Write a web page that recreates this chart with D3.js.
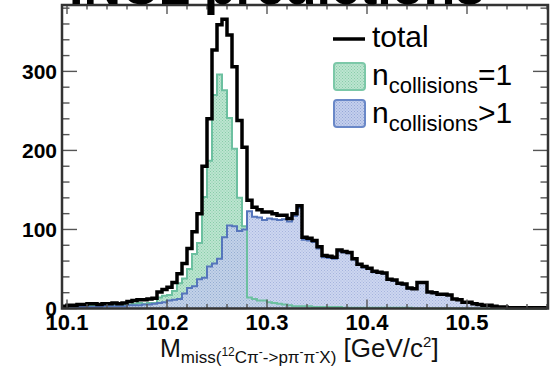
<!DOCTYPE html>
<html><head><meta charset="utf-8">
<script src="https://cdn.jsdelivr.net/npm/d3@7"></script>
<style>html,body{margin:0;padding:0;background:#fff;overflow:hidden}</style>
</head><body>
<svg id="c" width="559" height="368"></svg>
<script>
// ---- data ----
const binStart = 10.095;
const binWidth = 0.005;
const green = [1,2,2,3,3,4,4,3,3,3,4,3,4,5,6,7,6,7,7,14,16,17,22,32,38,50,69,83,141,187,270,296,276,241,202,140,104,14,12,10,10,8,7,6,5,4,3,3,3,3,2,2,2,2,2,2,1,1,1,1,1,1,1,1,1,1,1,1,1,1,0,0,0,0,0,0,0,0,0,0,0,0,0,0,0,0,0,0,0,0,0,0,0,0,0,0,0];
const blue = [2,2,2,2,2,2,2,2,3,3,3,3,3,4,4,4,5,5,6,7,8,10,11,12,19,26,28,37,39,53,57,63,90,105,104,98,100,123,116,115,112,114,113,112,113,110,117,127,87,86,84,76,65,64,63,72,71,70,62,55,52,50,46,45,44,36,35,31,30,25,25,33,33,21,20,18,18,17,12,11,8,8,6,5,4,4,3,2,2,1,1,1,1,1,1,1,1];
const total = [3,4,4,5,5,6,6,5,6,6,7,6,7,9,10,11,11,12,13,21,24,27,33,44,57,76,97,120,180,240,327,359,366,346,306,238,204,137,128,125,122,122,120,118,118,114,120,130,90,89,86,78,67,66,65,74,72,71,63,56,53,51,47,46,45,37,36,32,31,26,25,33,33,21,20,18,18,17,12,11,8,8,6,5,4,4,3,2,2,1,1,1,1,1,1,1,1];
const xTicks = [10.1, 10.2, 10.3, 10.4, 10.5];
const xTickLabels = ["10.1", "10.2", "10.3", "10.4", "10.5"];
const yTicks = [0, 100, 200, 300];
const yTickLabels = ["0", "100", "200", "300"];
const xMinor = [10.12,10.14,10.16,10.18,10.22,10.24,10.26,10.28,10.32,10.34,10.36,10.38,10.42,10.44,10.46,10.48,10.52,10.54,10.56,10.58];
const yMinor = [20,40,60,80,120,140,160,180,220,240,260,280,320,340,360,380];
const legendLabels = ["total", "n", "collisions", "=1", ">1"];
const titleText = "INCL predictions";

// ---- layout ----
const L = 62, R = 548, T = 5, B = 308.5;
const svg = d3.select("#c");
const x = d3.scaleLinear().domain([10.095, 10.581]).range([L, R]);
const y = d3.scaleLinear().domain([0, 384]).range([B, T]);

const defs = svg.append("defs");
function dotPattern(id, bg, dot) {
  const p = defs.append("pattern").attr("id", id).attr("patternUnits", "userSpaceOnUse")
    .attr("width", 3).attr("height", 3);
  p.append("rect").attr("width", 3).attr("height", 3).attr("fill", bg);
  p.append("rect").attr("x", 0).attr("y", 0).attr("width", 1).attr("height", 1).attr("fill", dot);
  p.append("rect").attr("x", 1.5).attr("y", 1.5).attr("width", 1).attr("height", 1).attr("fill", dot);
}
dotPattern("pg", "#bce5d0", "#88cca9");
dotPattern("pb", "#c4cfed", "#95a7d7");

function pts(arr) {
  const p = arr.map((v, i) => [binStart + i * binWidth, v]);
  p.push([binStart + arr.length * binWidth, arr[arr.length - 1]]);
  return p;
}
const clip = defs.append("clipPath").attr("id", "clip");
clip.append("rect").attr("x", L).attr("y", T).attr("width", R - L).attr("height", B - T + 2);

const area = d3.area().x(d => x(d[0])).y0(y(0)).y1(d => y(d[1])).curve(d3.curveStepAfter);
const line = d3.line().x(d => x(d[0])).y(d => y(d[1])).curve(d3.curveStepAfter);

const g = svg.append("g").attr("clip-path", "url(#clip)");
g.append("path").attr("d", area(pts(green))).attr("fill", "url(#pg)");
g.append("path").attr("d", area(pts(blue))).attr("fill", "url(#pb)").attr("opacity", 0.85);
g.append("path").attr("d", line(pts(green))).attr("fill", "none").attr("stroke", "#6cc0a0").attr("stroke-width", 2);
g.append("path").attr("d", line(pts(blue))).attr("fill", "none").attr("stroke", "#5676bc").attr("stroke-width", 2);
g.append("path").attr("d", line(pts(total))).attr("fill", "none").attr("stroke", "#000").attr("stroke-width", 3.5);

// ---- frame and ticks ----
const tk = svg.append("g").attr("stroke", "#555").attr("stroke-width", 1.4);
xTicks.forEach(v => {
  tk.append("line").attr("x1", x(v)).attr("x2", x(v)).attr("y1", B).attr("y2", B - 9);
  tk.append("line").attr("x1", x(v)).attr("x2", x(v)).attr("y1", T).attr("y2", T + 9);
});
xMinor.forEach(v => {
  tk.append("line").attr("x1", x(v)).attr("x2", x(v)).attr("y1", B).attr("y2", B - 4.5);
  tk.append("line").attr("x1", x(v)).attr("x2", x(v)).attr("y1", T).attr("y2", T + 4.5);
});
yTicks.forEach(v => {
  tk.append("line").attr("x1", L).attr("x2", L + 15).attr("y1", y(v)).attr("y2", y(v));
  tk.append("line").attr("x1", R).attr("x2", R - 15).attr("y1", y(v)).attr("y2", y(v));
});
yMinor.forEach(v => {
  tk.append("line").attr("x1", L).attr("x2", L + 7.5).attr("y1", y(v)).attr("y2", y(v));
  tk.append("line").attr("x1", R).attr("x2", R - 7.5).attr("y1", y(v)).attr("y2", y(v));
});
svg.append("rect").attr("x", L).attr("y", T).attr("width", R - L).attr("height", B - T)
  .attr("fill", "none").attr("stroke", "#333").attr("stroke-width", 2.5);

// ---- tick labels ----
const font = "Liberation Sans, Arial, Helvetica, sans-serif";
xTicks.forEach((v, i) => {
  svg.append("text").attr("x", x(v)).attr("y", 330).attr("text-anchor", "middle")
    .attr("font-family", font).attr("font-weight", "bold").attr("font-size", 22).text(xTickLabels[i]);
});
yTicks.forEach((v, i) => {
  svg.append("text").attr("x", 57).attr("y", y(v) + 7.5).attr("text-anchor", "end")
    .attr("font-family", font).attr("font-weight", "bold").attr("font-size", 21).text(yTickLabels[i]);
});

// ---- title (cut off at top) ----
svg.append("text").attr("x", 69).attr("y", 3.5).attr("font-family", font).attr("font-weight", "bold")
  .attr("font-size", 52).text(titleText);

// ---- x axis title ----
const xt = svg.append("text").attr("x", 160).attr("y", 357).attr("font-family", font).attr("fill", "#111");
xt.append("tspan").attr("font-size", 25).text("M");
const sub = (t, dy, fs) => xt.append("tspan").attr("dy", dy).attr("font-size", fs).text(t);
sub("miss(", 6, 17);
sub("12", -7, 12);
sub("Cπ", 7, 17);
sub("-", -7, 12);
sub("->pπ", 7, 17);
sub("-", -7, 12);
sub("π", 7, 17);
sub("-", -7, 12);
sub("X)", 7, 17);
sub(" [GeV/c", -6, 26);
sub("2", -10, 15);
sub("]", 10, 26);

// ---- legend ----
svg.append("line").attr("x1", 333).attr("x2", 365).attr("y1", 39).attr("y2", 39).attr("stroke", "#000").attr("stroke-width", 3.5);
svg.append("text").attr("x", 372).attr("y", 47).attr("font-family", font).attr("font-size", 30).text(legendLabels[0]);
svg.append("rect").attr("x", 334).attr("y", 63).attr("width", 31).attr("height", 27).attr("rx", 3)
  .attr("fill", "url(#pg)").attr("stroke", "#7cc8a8").attr("stroke-width", 2);
svg.append("rect").attr("x", 334).attr("y", 100).attr("width", 31).attr("height", 27).attr("rx", 3)
  .attr("fill", "url(#pb)").attr("stroke", "#6a88c8").attr("stroke-width", 2);
function legText(yb, last) {
  const t = svg.append("text").attr("x", 372).attr("y", yb).attr("font-family", font);
  t.append("tspan").attr("font-size", 30).text(legendLabels[1]);
  t.append("tspan").attr("font-size", 22).attr("dy", 8).text(legendLabels[2]);
  t.append("tspan").attr("font-size", 30).attr("dy", -8).text(last);
}
legText(85, legendLabels[3]);
legText(122.5, legendLabels[4]);
</script>
</body></html>
